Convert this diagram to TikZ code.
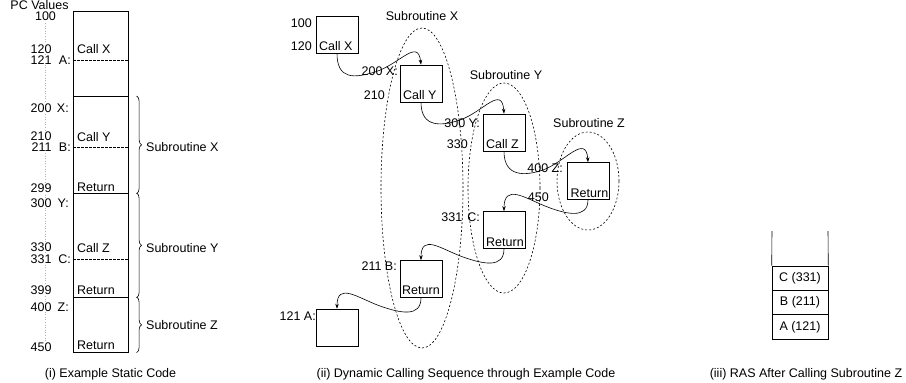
\documentclass[tikz,border=0pt]{standalone}
\usepackage{fontspec}
\setmainfont{Liberation Sans}
\usetikzlibrary{shapes.geometric,decorations.pathreplacing,arrows.meta}
\begin{document}
\begin{tikzpicture}[x=1pt,y=-1pt,
  every node/.style={font=\fontsize{12.5}{14}\selectfont, inner sep=0pt},
  sect/.style={draw, line width=0.6pt, minimum width=55pt, inner sep=0pt},
  num/.style={anchor=east, fill=white, inner sep=0.3pt},
  lbl/.style={anchor=east},
  txt/.style={anchor=west},
  sep/.style={dash pattern=on 2.5pt off 1.5pt, line width=0.5pt},
  pcline/.style={gray!60, dotted, line width=0.6pt},
  brc/.style={decorate, decoration={brace, amplitude=5pt}, line width=0.6pt},
  blk/.style={draw, line width=0.6pt, minimum width=42pt, minimum height=37pt},
  sub/.style={draw, ellipse, dash pattern=on 2pt off 2pt, line width=0.6pt},
  flow/.style={line width=0.6pt, -{Stealth[length=5pt,width=3.5pt]}},
  cell/.style={draw, line width=0.6pt, minimum width=56pt, minimum height=24.33pt},
  captxt/.style={anchor=base}]
\useasboundingbox (0,0) rectangle (906,383);
% ---------- (i) static code ----------
\draw[pcline] (45,23) -- (45,342);
\node[sect, minimum height=85pt, anchor=north west] (s0) at (73,11) {};
\node[sect, minimum height=97pt, anchor=north west] (sx) at (73,96) {};
\node[sect, minimum height=104pt, anchor=north west] (sy) at (73,193) {};
\node[sect, minimum height=55pt, anchor=north west] (sz) at (73,297) {};
\draw[sep] (73,60) -- (128,60);
\draw[sep] (73,147) -- (128,147);
\draw[sep] (73,259) -- (128,259);
\node (pcv) at (39.5,5.5) {PC Values};
\node[fill=white, inner sep=0.3pt] (n100) at (45.5,16.5) {100};
\node[num] (n120) at (52,49) {120};
\node[num] (n121) at (52,60) {121};
\node[lbl] (la) at (71,60) {A:};
\node[num] (n200) at (52,108) {200};
\node[lbl] (lx) at (69,108) {X:};
\node[num] (n210) at (52,136) {210};
\node[num] (n211) at (52,147.5) {211};
\node[lbl] (lb) at (71,147.5) {B:};
\node[num] (n299) at (52,188) {299};
\node[num] (n300) at (52,203) {300};
\node[lbl] (ly) at (69,203) {Y:};
\node[num] (n330) at (52,247) {330};
\node[num] (n331) at (52,259) {331};
\node[lbl] (lc) at (71,259) {C:};
\node[num] (n399) at (52,290) {399};
\node[num] (n400) at (52,307) {400};
\node[lbl] (lz) at (69,307) {Z:};
\node[num] (n450) at (52,347) {450};
\node[txt] (cx) at (77,49) {Call X};
\node[txt] (cy) at (77,137) {Call Y};
\node[txt] (r1) at (77,187) {Return};
\node[txt] (cz) at (77,248) {Call Z};
\node[txt] (r2) at (77,290) {Return};
\node[txt] (r3) at (77,345) {Return};
\draw[brc] ([xshift=8pt]sx.north east) -- ([xshift=8pt]sx.south east);
\draw[brc] ([xshift=8pt]sy.north east) -- ([xshift=8pt]sy.south east);
\draw[brc] ([xshift=8pt]sz.north east) -- ([xshift=8pt]sz.south east);
\node[txt] (tsx) at (146,147) {Subroutine X};
\node[txt] (tsy) at (146,248) {Subroutine Y};
\node[txt] (tsz) at (146,325) {Subroutine Z};
\node[captxt] (capi) at (110.5,377.5) {(i) Example Static Code};
% ---------- (ii) dynamic sequence ----------
\node[sub, minimum width=82pt, minimum height=320pt] (ex) at (422,188) {};
\node[sub, minimum width=72pt, minimum height=210pt] (ey) at (504,188) {};
\node[sub, minimum width=62pt, minimum height=98pt] (ez) at (588,181) {};
\node (tex) at (422,16) {Subroutine X};
\node (tey) at (506,75) {Subroutine Y};
\node (tez) at (589,123) {Subroutine Z};
\node[blk] (b1) at (337,34.5) {};
\node[blk] (b2) at (421,83.5) {};
\node[blk] (b3) at (504,132.5) {};
\node[blk] (b4) at (588,181) {};
\node[blk] (b5) at (504,230) {};
\node[blk] (b6) at (421,279) {};
\node[blk] (b7) at (337,327.5) {};
\node[lbl] (d100) at (312,23) {100};
\node[lbl] (d120) at (312,46) {120};
\node[txt] (dcx) at (319,46) {Call X};
\node[lbl] (d200) at (398,71) {200 X:};
\node[lbl] (d210) at (385,95) {210};
\node[txt] (dcy) at (403,95) {Call Y};
\node[lbl] (d300) at (480,123) {300 Y:};
\node[lbl] (d330) at (468,144) {330};
\node[txt] (dcz) at (486,144) {Call Z};
\node[lbl] (d400) at (563,168) {400 Z:};
\node[lbl] (d450) at (549,197) {450};
\node[txt] (dr4) at (570.5,193) {Return};
\node[lbl] (d331) at (480,217) {331\hspace{5pt}C:};
\node[txt] (dr5) at (486,242) {Return};
\node[lbl] (d211) at (397,266) {211 B:};
\node[txt] (dr6) at (402,290) {Return};
\node[lbl] (d121) at (316,316) {121 A:};
\draw[flow] (b1.south) .. controls +(0,27) and +(-20,6) .. (375,72)
  .. controls +(25,-8) and +(-3,-27) .. (b2.north);
\draw[flow] (b2.south) .. controls +(0,26) and +(-18,6) .. (460,120)
  .. controls +(23,-8) and +(-2,-29) .. (b3.north);
\draw[flow] (b3.south) .. controls +(0,26) and +(-18,6) .. (543,170)
  .. controls +(22,-8) and +(-2,-29) .. (b4.north);
\draw[flow] (b4.south) .. controls +(0,20) and +(20,8) .. (545,206)
  .. controls +(-20,-8) and +(0,-28) .. (b5.north);
\draw[flow] (b5.south) .. controls +(0,20) and +(20,7) .. (463,257)
  .. controls +(-22,-8) and +(0,-27) .. (b6.north);
\draw[flow] (b6.south) .. controls +(0,20) and +(20,7) .. (380,306)
  .. controls +(-22,-8) and +(0,-27) .. (b7.north);
\node[captxt] (capii) at (466,377.5) {(ii) Dynamic Calling Sequence through Example Code};
% ---------- (iii) RAS ----------
\node[cell] (rc) at (800,278.2) {C (331)};
\node[cell] (rb) at (800,302.5) {B (211)};
\node[cell] (ra) at (800,326.8) {A (121)};
\coordinate (tl) at (772,231);
\coordinate (tr) at (828,231);
\draw[line width=0.6pt] (rc.north west) -- (tl);
\draw[line width=0.6pt] (rc.north east) -- (tr);
\node[captxt] (capiii) at (806,377.5) {(iii) RAS After Calling Subroutine Z};
\end{tikzpicture}
\end{document}
